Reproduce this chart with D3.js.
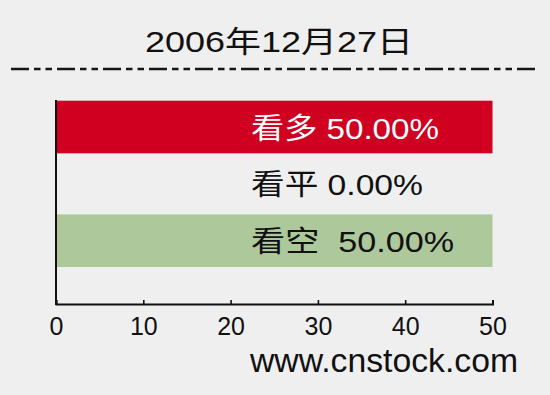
<!DOCTYPE html>
<html>
<head>
<meta charset="utf-8">
<script src="https://cdn.jsdelivr.net/npm/d3@7"></script>
<style>
  body { margin: 0; background: #efefef; }
  svg { display: block; }
  text { font-family: "Liberation Sans", Arial, "Noto Sans CJK SC", sans-serif; white-space: pre; }
</style>
</head>
<body>
<svg id="chart"></svg>
<script>
let svgWidth = 550, svgHeight = 395

// data
let categories = ['看多', '看平', '看空']
let values = [50, 0, 50]
let labels = ['看多 50.00%', '看平 0.00%', '看空  50.00%']
let labelWidths = [188, 172, 203]
let barColors = ['#cf0020', 'none', '#adc89b']
let labelColors = ['#ffffff', '#111111', '#111111']
let xTicks = [0, 10, 20, 30, 40, 50]
let title = '2006年12月27日'
let source = 'www.cnstock.com'

let svg = d3.select('#chart').attr('width', svgWidth).attr('height', svgHeight)
svg.append('rect').attr('width', svgWidth).attr('height', svgHeight).attr('fill', '#efefef')

let axisY = 304
let x = d3.scaleLinear().domain([0, 50]).range([56, 492.5])
let y = d3.scaleBand().domain(categories).range([100.7, 267]).paddingInner(0.074).paddingOuter(0)

// title + dash-dot rule
svg.append('text')
  .attr('x', 145).attr('y', 52)
  .attr('font-size', 30).attr('fill', '#111')
  .attr('textLength', 268).attr('lengthAdjust', 'spacingAndGlyphs')
  .text(title)

svg.append('line')
  .attr('x1', 11).attr('x2', 539).attr('y1', 69).attr('y2', 69)
  .attr('stroke', '#151515').attr('stroke-width', 2.6)
  .attr('stroke-dasharray', '18,5,6.5,5,6.5,5')

// bars
let rows = categories.map((c, i) => ({ cat: c, value: values[i], label: labels[i], w: labelWidths[i], fill: barColors[i], color: labelColors[i] }))

svg.selectAll('rect.bar').data(rows).enter().append('rect')
  .attr('class', 'bar')
  .attr('x', x(0))
  .attr('y', d => y(d.cat))
  .attr('width', d => x(d.value) - x(0))
  .attr('height', y.bandwidth())
  .attr('fill', d => d.fill)

svg.selectAll('text.lbl').data(rows).enter().append('text')
  .attr('class', 'lbl')
  .attr('x', 251)
  .attr('y', d => y(d.cat) + y.bandwidth() / 2 + 11.5)
  .attr('font-size', 29)
  .attr('fill', d => d.color)
  .attr('textLength', d => d.w).attr('lengthAdjust', 'spacingAndGlyphs')
  .text(d => d.label)

// axes
let xAxis = d3.axisBottom(x).tickValues(xTicks).tickSize(-4).tickSizeOuter(-4).tickPadding(13)
let gx = svg.append('g').attr('transform', `translate(0,${axisY})`).call(xAxis)
gx.select('.domain').attr('stroke', '#111').attr('stroke-width', 2)
gx.selectAll('.tick line').attr('stroke', '#111').attr('stroke-width', 1.6)
gx.selectAll('.tick text').attr('font-size', 25).attr('fill', '#111')
  .style('font-family', '"Liberation Sans", Arial, sans-serif')

svg.append('line')
  .attr('x1', x(0)).attr('x2', x(0))
  .attr('y1', 100).attr('y2', axisY + 1)
  .attr('stroke', '#111').attr('stroke-width', 2)

svg.append('text')
  .attr('x', 518).attr('y', 372)
  .attr('text-anchor', 'end')
  .attr('font-size', 33).attr('fill', '#111')
  .attr('textLength', 268).attr('lengthAdjust', 'spacingAndGlyphs')
  .text(source)
</script>
</body>
</html>
